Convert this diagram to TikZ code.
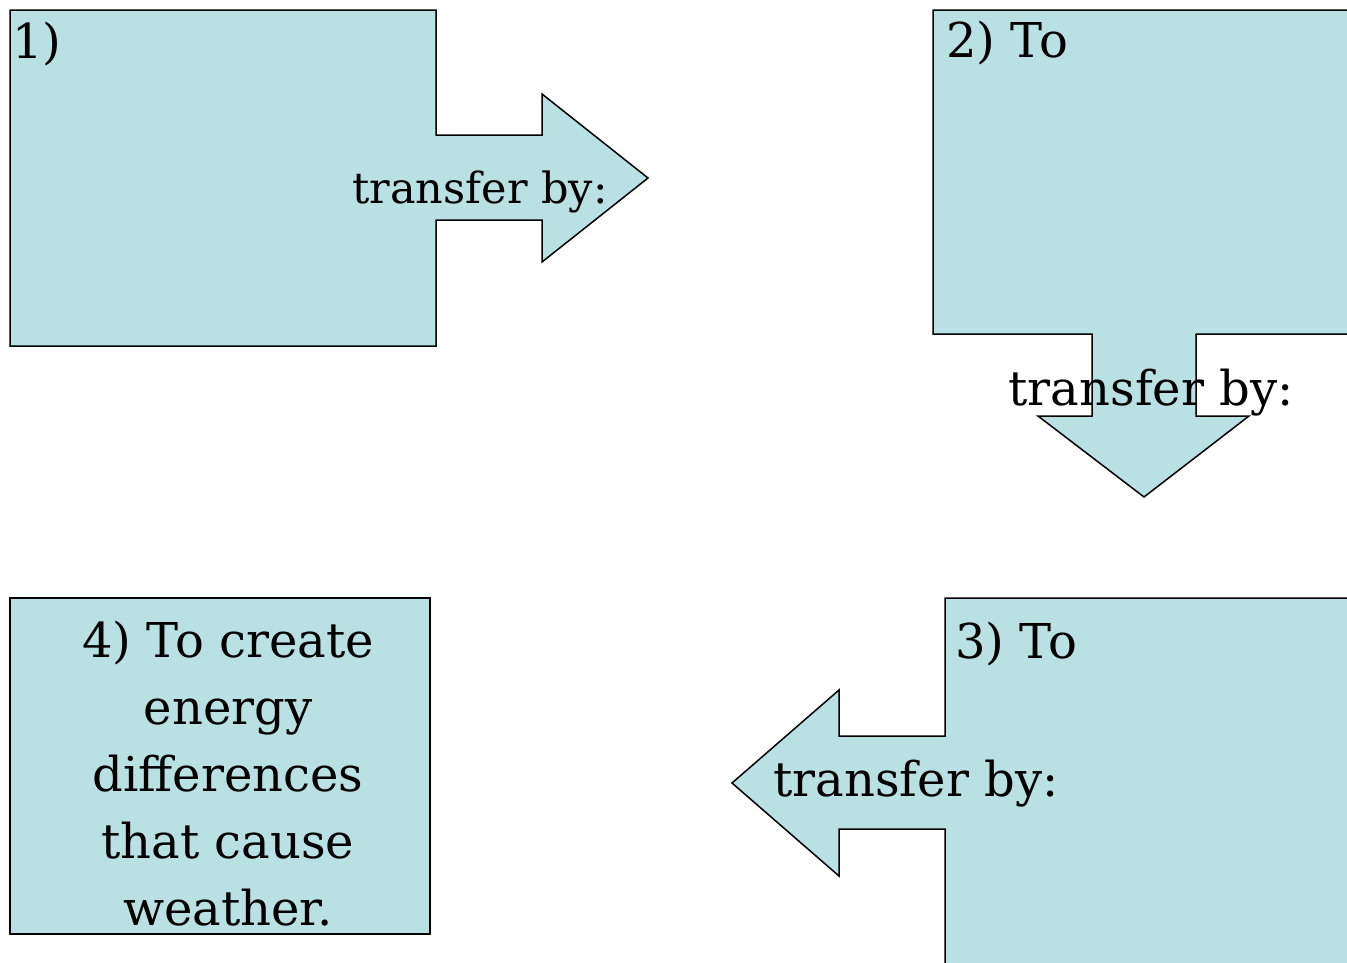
\documentclass[tikz,border=0pt]{standalone}
\usepackage{fontspec}
\setmainfont{DejaVu Serif}
\definecolor{boxfill}{RGB}{185,224,227}
\begin{document}
\begin{tikzpicture}[x=1pt,y=-1pt,
  shapebox/.style={draw=black, fill=boxfill, line width=1.5pt, line join=miter},
  bigtext/.style={font=\fontsize{48}{67}\selectfont, inner sep=0pt},
  midtext/.style={font=\fontsize{43}{50}\selectfont, inner sep=0pt}]
\useasboundingbox (0,0) rectangle (1347,962);
\fill[white] (0,0) rectangle (1347,962);
\begin{scope}
\clip (0,0) rectangle (1347,962);
% shape 1: box with right arrow
\draw[shapebox] (10,10) -- (436,10) -- (436,135) -- (542,135) -- (542,94) -- (648,178)
  -- (542,262) -- (542,220) -- (436,220) -- (436,346) -- (10,346) -- cycle;
% shape 2: box with down arrow
\draw[shapebox] (933,10) -- (1365,10) -- (1365,334) -- (1196,334) -- (1196,416) -- (1249,416)
  -- (1144,497) -- (1038,416) -- (1092,416) -- (1092,334) -- (933,334) -- cycle;
% shape 3: box with left arrow
\draw[shapebox] (945,598) -- (1365,598) -- (1365,975) -- (945,975) -- (945,829) -- (839,829)
  -- (839,876) -- (732,783) -- (839,690) -- (839,736) -- (945,736) -- cycle;
% shape 4: plain box
\draw[shapebox] (10,598) rectangle (430,934);
\end{scope}
% texts
\node[bigtext, anchor=base west] (t1) at (12,58) {1)};
\node[midtext, anchor=base] (tr1) at (480,203) {transfer by:};
\node[bigtext, anchor=base west] (t2) at (946,57) {2) To};
\node[bigtext, anchor=base] (tr2) at (1151,405) {transfer by:};
\node[bigtext, anchor=base west] (t3) at (955,658) {3) To};
\node[bigtext, anchor=base] (tr3) at (916,796) {transfer by:};
\node[bigtext, align=center, anchor=center] (t4) at (228,774)
  {4) To create\\energy\\differences\\that cause\\weather.};
\end{tikzpicture}
\end{document}
